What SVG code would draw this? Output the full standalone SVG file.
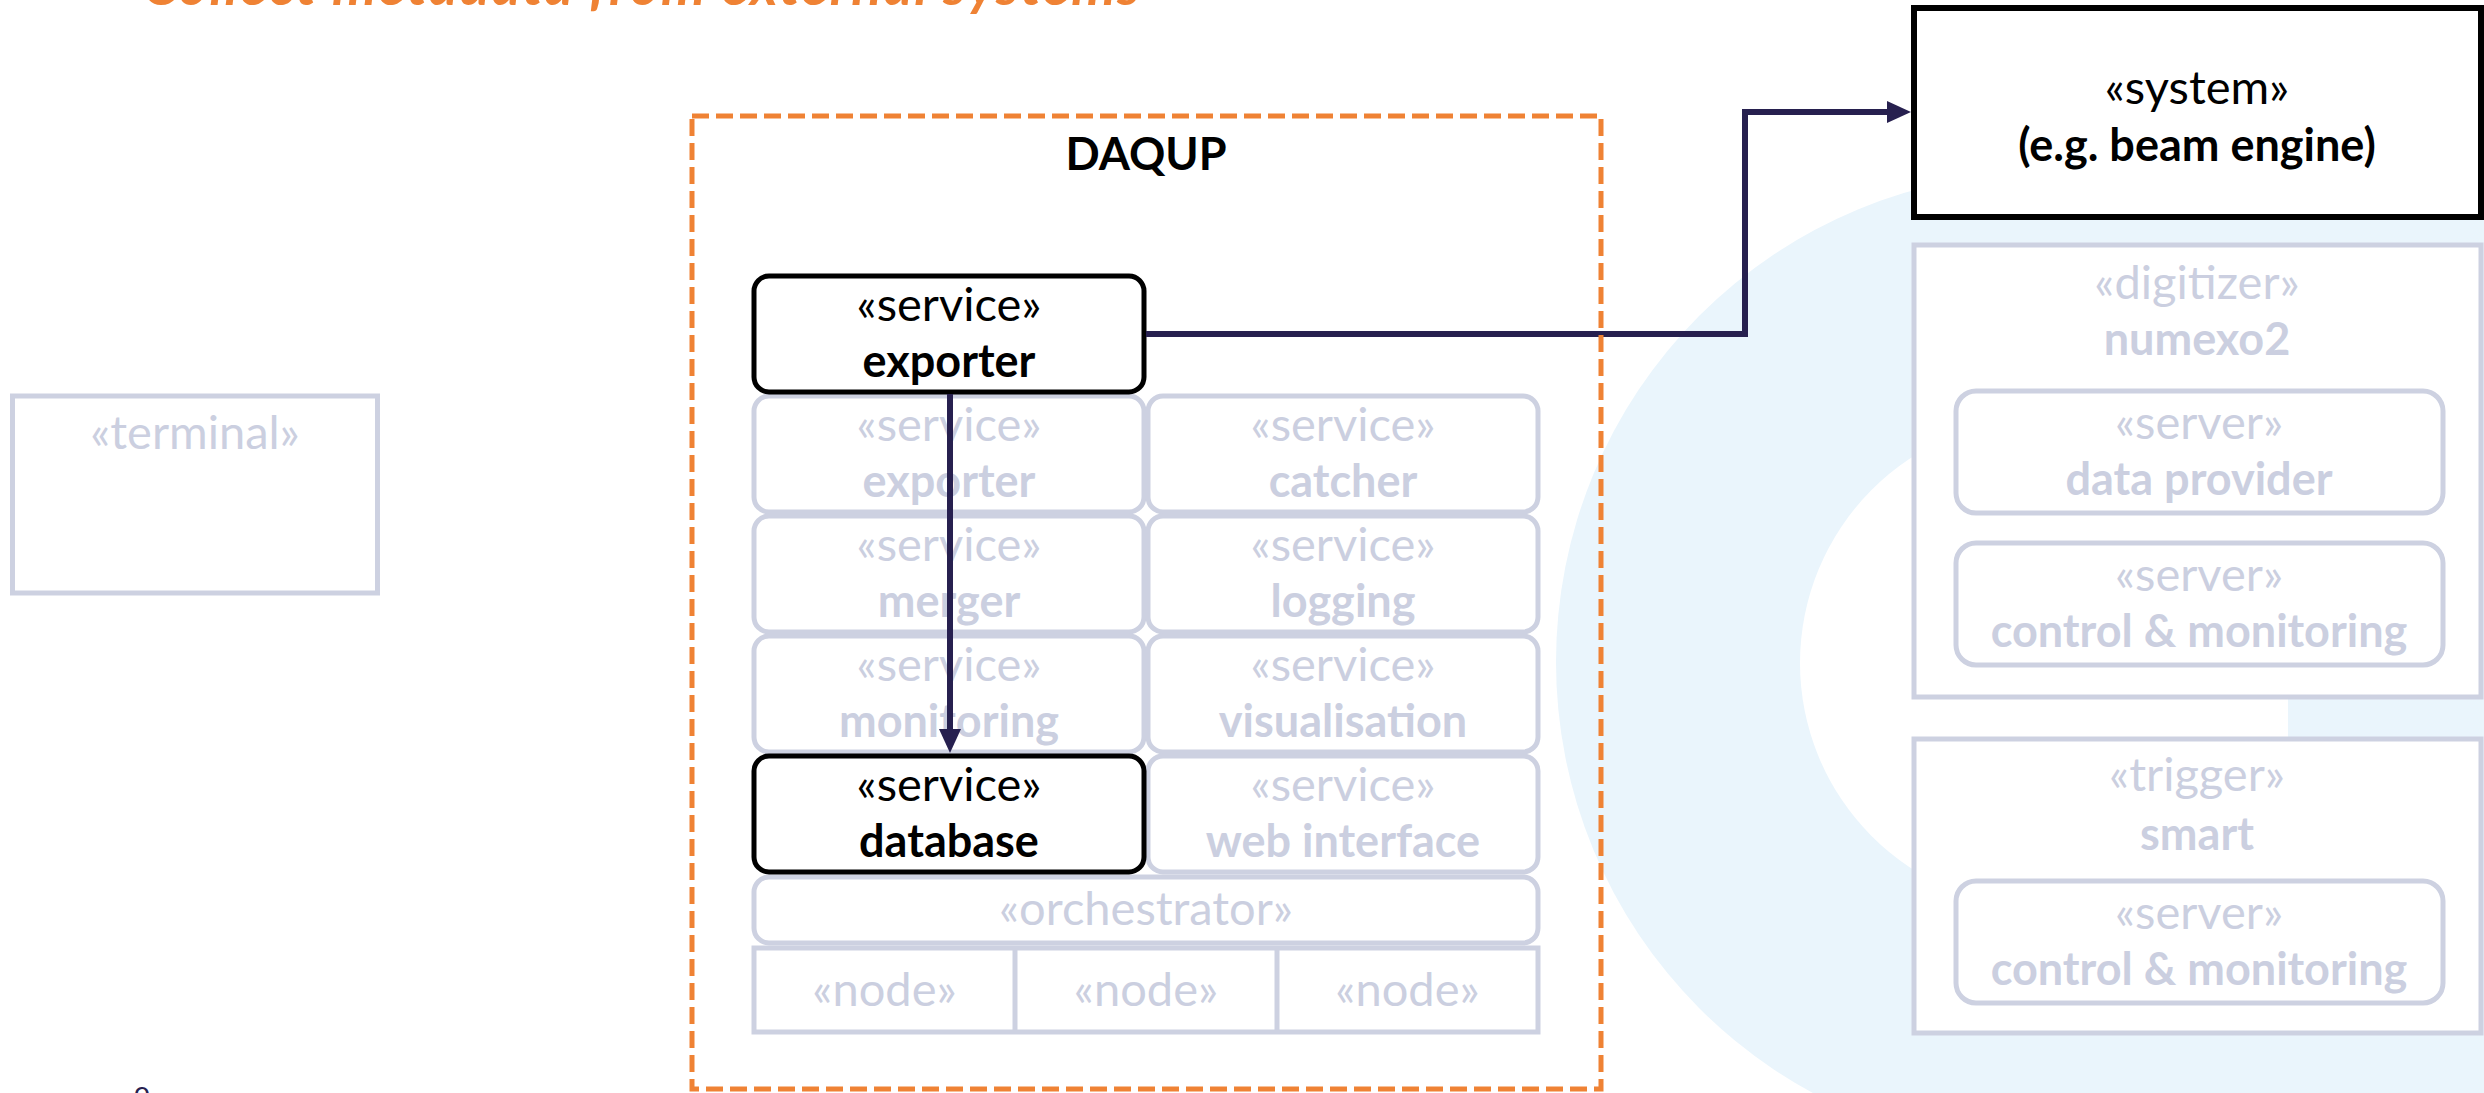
<svg xmlns="http://www.w3.org/2000/svg" width="2484" height="1093" viewBox="0 0 2484 1093">
  <style>
    text { font-family: Lato, "Open Sans", "Liberation Sans", sans-serif; text-anchor: middle; }
    .st { font-size: 47px; }
    .nm { font-size: 45px; font-weight: 700; }
    .ink { fill: #000000; }
    .dim { fill: #cbcfe0; }
    .box-dim { fill: #ffffff; stroke: #cdd1e1; stroke-width: 5; }
    .box-ink { fill: #ffffff; stroke: #000000; stroke-width: 5; }
    .conn { fill: none; stroke: #27204f; stroke-width: 6; }
    .title { font-size: 56px; font-weight: 700; font-style: italic; fill: #ef8234; text-anchor: start; }
  </style>
  <defs>
    <marker id="arrow" markerUnits="userSpaceOnUse" markerWidth="24" markerHeight="24" viewBox="0 0 24 24" refX="17" refY="12" orient="auto">
      <path d="M0,1 L24,12 L0,23 z" fill="#27204f"/>
    </marker>
  </defs>

  <!-- decorative ring in the background -->
  <g id="backdrop">
    <circle cx="2046" cy="662" r="490" fill="#eaf5fc"/>
    <rect x="2046" y="172" width="438" height="921" fill="#eaf5fc"/>
    <circle cx="2045" cy="663" r="245" fill="#ffffff"/>
    <rect x="2045" y="663" width="243" height="140" fill="#ffffff"/>
  </g>

  <text class="title" x="143" y="5" textLength="997">Collect metadata from external systems</text>

  <!-- terminal -->
  <g id="terminal">
    <rect class="box-dim" x="12.5" y="396" width="365" height="197"/>
    <text class="st dim" x="195" y="449">«terminal»</text>
  </g>

  <!-- DAQUP services grid -->
  <g id="svc-exporter-bg">
    <rect class="box-dim" x="754" y="396" width="390" height="116" rx="15"/>
    <text class="st dim" x="949" y="441">«service»</text>
    <text class="nm dim" x="949" y="497">exporter</text>
  </g>
  <g id="svc-catcher">
    <rect class="box-dim" x="1148" y="396" width="390" height="116" rx="15"/>
    <text class="st dim" x="1343" y="441">«service»</text>
    <text class="nm dim" x="1343" y="497">catcher</text>
  </g>
  <g id="svc-merger">
    <rect class="box-dim" x="754" y="516" width="390" height="116" rx="15"/>
    <text class="st dim" x="949" y="561">«service»</text>
    <text class="nm dim" x="949" y="617">merger</text>
  </g>
  <g id="svc-logging">
    <rect class="box-dim" x="1148" y="516" width="390" height="116" rx="15"/>
    <text class="st dim" x="1343" y="561">«service»</text>
    <text class="nm dim" x="1343" y="617">logging</text>
  </g>
  <g id="svc-monitoring">
    <rect class="box-dim" x="754" y="636" width="390" height="116" rx="15"/>
    <text class="st dim" x="949" y="681">«service»</text>
    <text class="nm dim" x="949" y="737">monitoring</text>
  </g>
  <g id="svc-visualisation">
    <rect class="box-dim" x="1148" y="636" width="390" height="116" rx="15"/>
    <text class="st dim" x="1343" y="681">«service»</text>
    <text class="nm dim" x="1343" y="737">visualisation</text>
  </g>
  <g id="svc-web">
    <rect class="box-dim" x="1148" y="756" width="390" height="116" rx="15"/>
    <text class="st dim" x="1343" y="801">«service»</text>
    <text class="nm dim" x="1343" y="857">web interface</text>
  </g>
  <g id="orchestrator">
    <rect class="box-dim" x="754" y="877" width="784" height="66" rx="15"/>
    <text class="st dim" x="1146" y="925">«orchestrator»</text>
  </g>
  <g id="nodes">
    <rect class="box-dim" x="754" y="948" width="784" height="84"/>
    <line x1="1015" y1="948" x2="1015" y2="1032" stroke="#cdd1e1" stroke-width="5"/>
    <line x1="1277" y1="948" x2="1277" y2="1032" stroke="#cdd1e1" stroke-width="5"/>
    <text class="st dim" x="884.5" y="1006">«node»</text>
    <text class="st dim" x="1146" y="1006">«node»</text>
    <text class="st dim" x="1407.5" y="1006">«node»</text>
  </g>

  <!-- highlighted services -->
  <g id="svc-exporter">
    <rect class="box-ink" x="754" y="276" width="390" height="116" rx="15"/>
    <text class="st ink" x="949" y="321">«service»</text>
    <text class="nm ink" x="949" y="377">exporter</text>
  </g>
  <g id="svc-database">
    <rect class="box-ink" x="754" y="756" width="390" height="116" rx="15"/>
    <text class="st ink" x="949" y="801">«service»</text>
    <text class="nm ink" x="949" y="857">database</text>
  </g>

  <!-- external systems -->
  <g id="system">
    <rect x="1914" y="8" width="567" height="209" fill="#ffffff" stroke="#000000" stroke-width="6"/>
    <text class="st ink" x="2197" y="104">«system»</text>
    <text class="nm ink" x="2197" y="161">(e.g. beam engine)</text>
  </g>
  <g id="digitizer">
    <rect class="box-dim" x="1914" y="245" width="567" height="452"/>
    <text class="st dim" x="2197" y="299">«digitizer»</text>
    <text class="nm dim" x="2197" y="355">numexo2</text>
    <g id="digitizer-data">
      <rect class="box-dim" x="1956" y="391" width="487" height="122" rx="20"/>
      <text class="st dim" x="2199" y="439">«server»</text>
      <text class="nm dim" x="2199" y="495">data provider</text>
    </g>
    <g id="digitizer-control">
      <rect class="box-dim" x="1956" y="543" width="487" height="122" rx="20"/>
      <text class="st dim" x="2199" y="591">«server»</text>
      <text class="nm dim" x="2199" y="647">control &amp; monitoring</text>
    </g>
  </g>
  <g id="trigger">
    <rect class="box-dim" x="1914" y="739" width="567" height="294"/>
    <text class="st dim" x="2197" y="791">«trigger»</text>
    <text class="nm dim" x="2197" y="850">smart</text>
    <g id="trigger-control">
      <rect class="box-dim" x="1956" y="881" width="487" height="122" rx="20"/>
      <text class="st dim" x="2199" y="929">«server»</text>
      <text class="nm dim" x="2199" y="985">control &amp; monitoring</text>
    </g>
  </g>

  <!-- connectors -->
  <g id="connectors">
    <path class="conn" d="M950,394 V746" marker-end="url(#arrow)"/>
    <path class="conn" d="M1146,334 H1745 V112 H1904" marker-end="url(#arrow)"/>
  </g>

  <!-- DAQUP boundary -->
  <g id="daqup">
    <rect x="692" y="116" width="909" height="973" fill="none" stroke="#ef8234" stroke-width="5" stroke-dasharray="17 7"/>
    <text class="nm ink" x="1146" y="170">DAQUP</text>
  </g>

  <text x="142" y="1102" font-size="28" fill="#27204f">o</text>
</svg>
